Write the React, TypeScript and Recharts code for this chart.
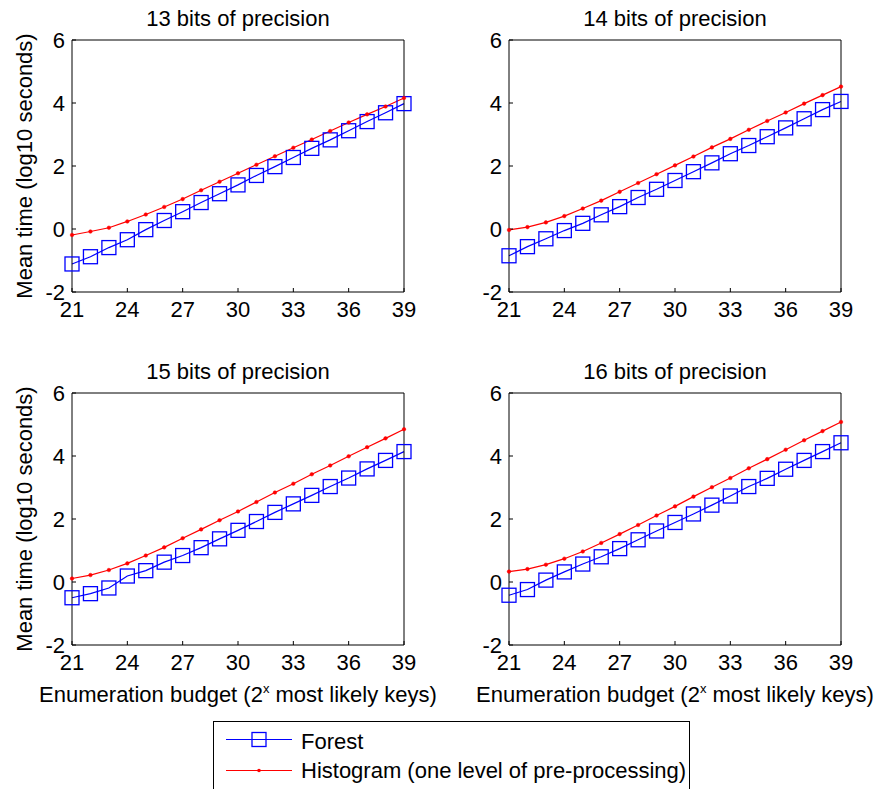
import React from 'react';
import { LineChart, Line, XAxis, YAxis } from 'recharts';

const budget = [21, 22, 23, 24, 25, 26, 27, 28, 29, 30, 31, 32, 33, 34, 35, 36, 37, 38, 39];

const forest13 = [-1.11, -0.88, -0.59, -0.34, -0.02, 0.27, 0.55, 0.84, 1.12, 1.4, 1.7, 1.98, 2.27, 2.56, 2.83, 3.12, 3.41, 3.69, 3.98];
const hist13 = [-0.19, -0.08, 0.04, 0.24, 0.46, 0.7, 0.95, 1.23, 1.5, 1.77, 2.04, 2.31, 2.58, 2.84, 3.11, 3.38, 3.64, 3.89, 4.16];
const forest14 = [-0.85, -0.56, -0.31, -0.05, 0.18, 0.45, 0.71, 1.0, 1.26, 1.54, 1.82, 2.1, 2.39, 2.65, 2.93, 3.21, 3.5, 3.79, 4.05];
const hist14 = [-0.03, 0.06, 0.21, 0.41, 0.65, 0.9, 1.18, 1.46, 1.74, 2.02, 2.3, 2.59, 2.86, 3.15, 3.43, 3.7, 3.98, 4.25, 4.52];
const forest15 = [-0.5, -0.37, -0.19, 0.19, 0.36, 0.63, 0.84, 1.09, 1.37, 1.64, 1.92, 2.21, 2.48, 2.75, 3.03, 3.3, 3.59, 3.86, 4.14];
const hist15 = [0.11, 0.22, 0.38, 0.59, 0.84, 1.1, 1.39, 1.67, 1.96, 2.24, 2.54, 2.84, 3.12, 3.42, 3.7, 3.99, 4.28, 4.56, 4.85];
const forest16 = [-0.42, -0.24, 0.06, 0.32, 0.57, 0.8, 1.06, 1.34, 1.62, 1.89, 2.16, 2.44, 2.73, 3.03, 3.29, 3.58, 3.86, 4.14, 4.42];
const hist16 = [0.33, 0.41, 0.55, 0.74, 0.97, 1.24, 1.52, 1.81, 2.11, 2.4, 2.71, 3.01, 3.3, 3.61, 3.9, 4.2, 4.5, 4.79, 5.08];

const xTicks = [21, 24, 27, 30, 33, 36, 39];
const yTicks = [-2, 0, 2, 4, 6];

const titles = ['13 bits of precision', '14 bits of precision', '15 bits of precision', '16 bits of precision'];
const seriesNames = ['Forest', 'Histogram (one level of pre-processing)'];

const FONT = '"Liberation Sans", Arial, Helvetica, sans-serif';
const FS = 22;
const BLUE = '#0000ff';
const RED = '#ff0000';

// plot-area positions on the page
const panels = [
  { title: titles[0], forest: forest13, hist: hist13, left: 72, top: 40, yLabel: true, xLabel: false },
  { title: titles[1], forest: forest14, hist: hist14, left: 509, top: 40, yLabel: false, xLabel: false },
  { title: titles[2], forest: forest15, hist: hist15, left: 72, top: 393, yLabel: true, xLabel: true },
  { title: titles[3], forest: forest16, hist: hist16, left: 509, top: 393, yLabel: false, xLabel: true },
];

const PLOT_W = 332;
const PLOT_H = 252;
const AXIS_W = 72;
const AXIS_H = 40;

const tickStyle = { fill: '#000', fontSize: FS, fontFamily: FONT };

function squareDot(props: any) {
  const { cx, cy, index } = props;
  if (cx == null || cy == null) return <g key={index} />;
  return (
    <rect key={index} x={cx - 7} y={cy - 7} width={14} height={14} fill="none" stroke={BLUE} strokeWidth={1.3} />
  );
}

function Panel({ forest, hist }: { forest: number[]; hist: number[] }) {
  const data = budget.map((b, i) => ({ x: b, forest: forest[i], hist: hist[i] }));
  return (
    <LineChart
      width={AXIS_W + PLOT_W + 36}
      height={40 + PLOT_H + AXIS_H}
      data={data}
      margin={{ top: 39, right: 35, bottom: 0, left: 0 }}
    >
      <XAxis
        dataKey="x"
        type="number"
        domain={[21, 39]}
        ticks={xTicks}
        interval={0}
        height={AXIS_H}
        tickSize={-4}
        tickMargin={13}
        tick={tickStyle}
        stroke="#000"
      />
      <XAxis
        xAxisId="top"
        orientation="top"
        dataKey="x"
        type="number"
        domain={[21, 39]}
        ticks={xTicks}
        interval={0}
        height={1}
        tickSize={-4}
        tick={false}
        stroke="#000"
      />
      <YAxis
        type="number"
        domain={[-2, 6]}
        ticks={yTicks}
        interval={0}
        width={AXIS_W}
        tickSize={-4}
        tickMargin={11}
        tick={tickStyle}
        stroke="#000"
      />
      <YAxis
        yAxisId="right"
        orientation="right"
        type="number"
        domain={[-2, 6]}
        ticks={yTicks}
        interval={0}
        width={1}
        tickSize={-4}
        tick={false}
        stroke="#000"
      />
      <Line
        dataKey="forest"
        type="linear"
        stroke={BLUE}
        strokeWidth={1.2}
        dot={squareDot}
        activeDot={false}
        isAnimationActive={false}
      />
      <Line
        dataKey="hist"
        type="linear"
        stroke={RED}
        strokeWidth={1.2}
        dot={{ r: 1.8, fill: RED, stroke: RED, strokeWidth: 0.5 }}
        activeDot={false}
        isAnimationActive={false}
      />
    </LineChart>
  );
}

export default function App() {
  return (
    <div
      style={{
        position: 'absolute',
        left: 0,
        top: 0,
        width: 878,
        height: 789,
        background: '#fff',
        overflow: 'hidden',
        fontFamily: FONT,
      }}
    >
      {panels.map((p, i) => (
        <div key={i} style={{ position: 'absolute', left: p.left - AXIS_W, top: p.top - 40 }}>
          <Panel forest={p.forest} hist={p.hist} />
        </div>
      ))}
      <svg
        width={878}
        height={789}
        style={{ position: 'absolute', left: 0, top: 0, pointerEvents: 'none' }}
        fontFamily={FONT}
        fontSize={FS}
      >
        {panels.map((p, i) => (
          <g key={i}>
            <text x={p.left + PLOT_W / 2} y={p.top - 14} textAnchor="middle" fill="#000">
              {p.title}
            </text>
            {p.yLabel && (
              <text
                transform={`translate(32,${p.top + PLOT_H / 2}) rotate(-90)`}
                textAnchor="middle"
                fill="#000"
              >
                Mean time (log10 seconds)
              </text>
            )}
            {p.xLabel && (
              <text x={p.left + PLOT_W / 2} y={p.top + PLOT_H + 57} textAnchor="middle" fill="#000">
                Enumeration budget (2
                <tspan dy={-9} fontSize={13}>x</tspan>
                <tspan dy={9}> most likely keys)</tspan>
              </text>
            )}
          </g>
        ))}
        <g>
          <rect x={213.5} y={721.5} width={476} height={90} fill="#fff" stroke="#000" strokeWidth={1} />
          <line x1={226} x2={292} y1={739.5} y2={739.5} stroke={BLUE} strokeWidth={1.2} />
          <rect x={252} y={732.5} width={14} height={14} fill="none" stroke={BLUE} strokeWidth={1.3} />
          <text x={301} y={749} fill="#000">{seriesNames[0]}</text>
          <line x1={226} x2={292} y1={770.5} y2={770.5} stroke={RED} strokeWidth={1.2} />
          <circle cx={259} cy={770.5} r={1.8} fill={RED} />
          <text x={301} y={778} fill="#000">{seriesNames[1]}</text>
        </g>
      </svg>
    </div>
  );
}
